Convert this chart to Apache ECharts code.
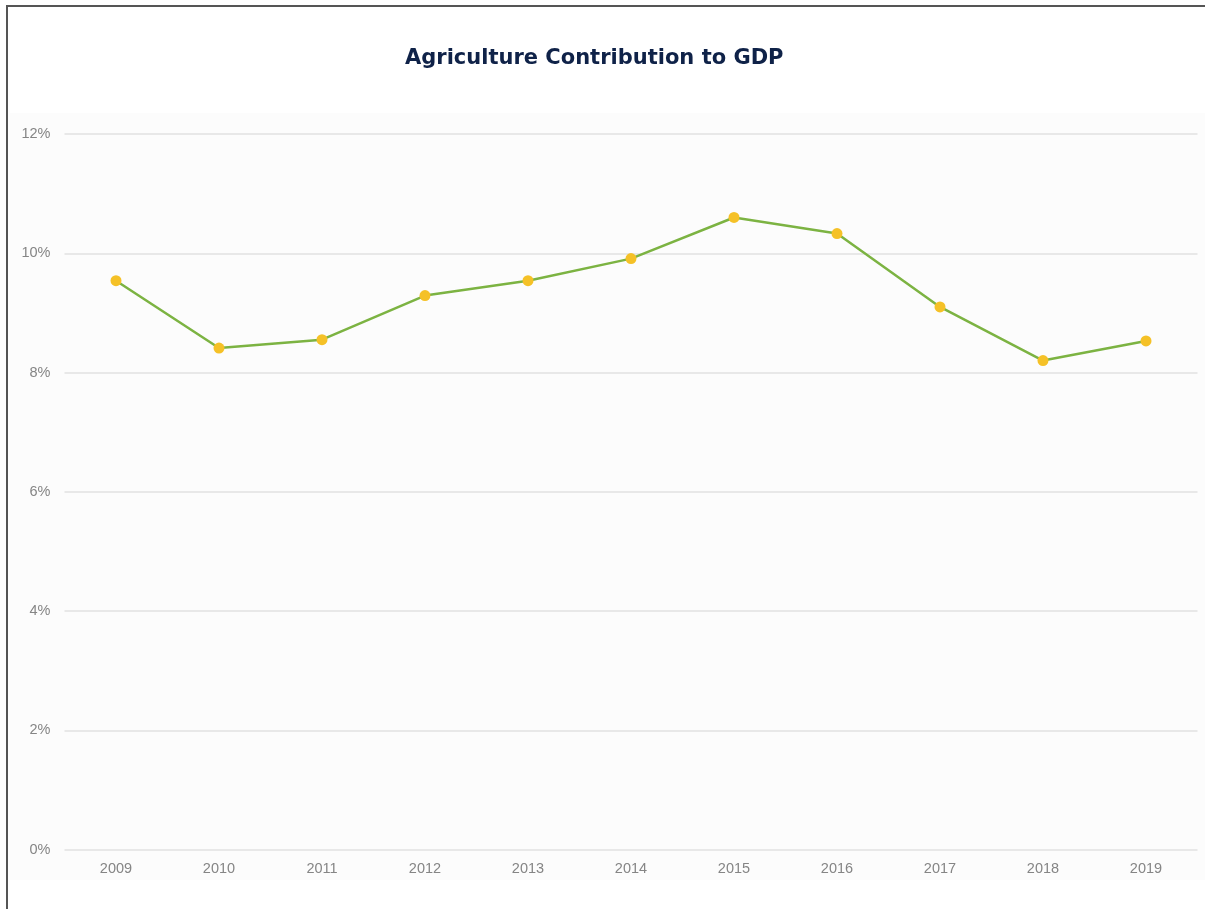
<!DOCTYPE html>
<html>
<head>
<meta charset="utf-8">
<script src="https://cdn.jsdelivr.net/npm/echarts@6/dist/echarts.min.js"></script>
<style>
  html, body { margin: 0; padding: 0; background: #ffffff; }
  #frame { position: absolute; left: 0; top: 0; width: 1205px; height: 909px; overflow: hidden; }
  #edge { position: absolute; left: 6px; top: 5px; width: 1300px; height: 1000px;
          border-left: 2px solid #555; border-top: 2px solid #555; box-sizing: border-box; }
  #chart { position: absolute; left: 0; top: 0; width: 1205px; height: 909px; }
</style>
</head>
<body>
<div id="frame">
  <div id="chart"></div>
  <div id="edge"></div>
</div>
<script>
// Agriculture share of GDP, percent
const years = ['2009', '2010', '2011', '2012', '2013', '2014', '2015', '2016', '2017', '2018', '2019'];
const agricultureShare = [9.54, 8.41, 8.55, 9.29, 9.54, 9.91, 10.6, 10.33, 9.1, 8.2, 8.53];
const yTicks = [0, 2, 4, 6, 8, 10, 12];

const chart = echarts.init(document.getElementById('chart'), null, { renderer: 'canvas' });

chart.setOption({
  backgroundColor: '#ffffff',
  animation: false,
  title: {
    text: 'Agriculture Contribution to GDP',
    left: 400,
    top: 43,
    textStyle: {
      fontFamily: 'DejaVu Sans',
      fontWeight: 'bold',
      fontSize: 21,
      color: '#0f2248'
    }
  },
  graphic: [{
    type: 'rect',
    z: -10,
    shape: { x: 10, y: 113, width: 1195, height: 767 },
    style: { fill: '#fcfcfc' },
    silent: true
  }],
  grid: { left: 64.5, right: 7.5, top: 134, bottom: 59.5, containLabel: false },
  xAxis: {
    type: 'category',
    data: years,
    boundaryGap: true,
    axisLine: { show: false },
    axisTick: { show: false },
    axisLabel: {
      margin: 12,
      fontFamily: 'Liberation Sans',
      fontSize: 14.5,
      color: '#858585'
    },
    splitLine: { show: false }
  },
  yAxis: {
    type: 'value',
    min: yTicks[0],
    max: yTicks[yTicks.length - 1],
    interval: 2,
    axisLine: { show: false },
    axisTick: { show: false },
    axisLabel: {
      margin: 14,
      fontFamily: 'Liberation Sans',
      fontSize: 14.5,
      color: '#858585',
      formatter: v => v + '%'
    },
    splitLine: { lineStyle: { color: '#e2e2e2', width: 1.5 } }
  },
  series: [{
    type: 'line',
    data: agricultureShare,
    symbol: 'circle',
    symbolSize: 11,
    lineStyle: { color: '#7cb342', width: 2.5 },
    itemStyle: { color: '#f5c127' },
    z: 3
  }]
});
</script>
</body>
</html>
